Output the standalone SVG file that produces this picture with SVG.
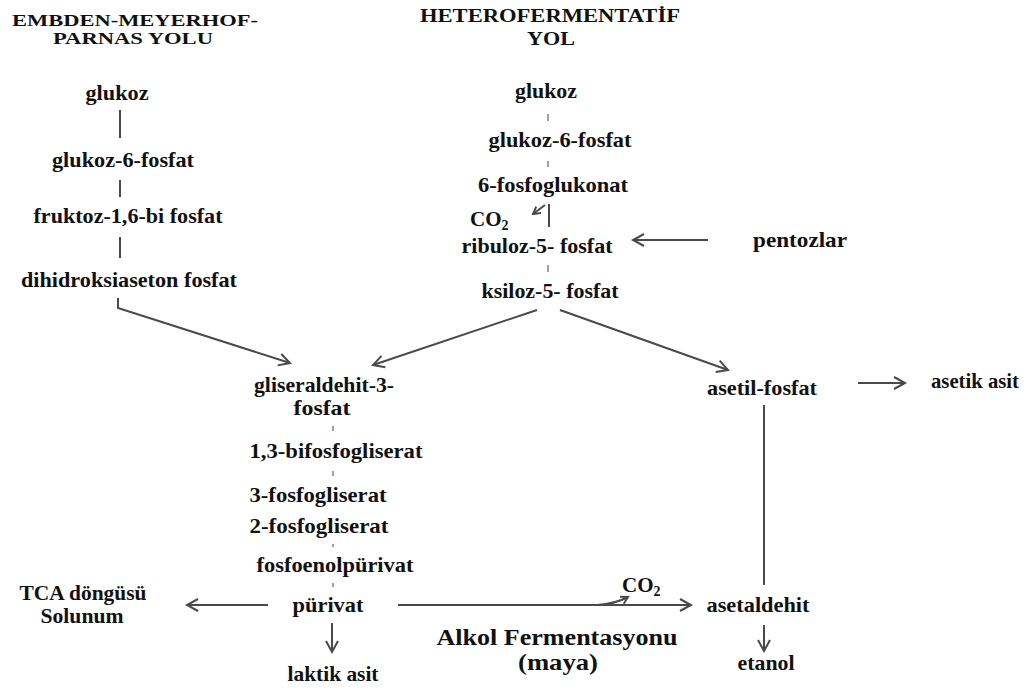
<svg xmlns="http://www.w3.org/2000/svg" width="1034" height="688" viewBox="0 0 1034 688">
<style>
text{font-family:"Liberation Serif","Times New Roman",serif;font-weight:bold;fill:#111;font-size:21px;text-anchor:middle}
.t{font-size:17px}
.t2{font-size:18px}
.big{font-size:23px}
.ln{stroke:#4a4a4a;stroke-width:2;fill:none}
.tk{stroke:#8a8a8a;stroke-width:1.6;fill:none}
.ar{marker-end:url(#ah)}
</style>
<defs>
<marker id="ah" markerUnits="userSpaceOnUse" markerWidth="16" markerHeight="16" viewBox="0 0 16 16" refX="13" refY="8" orient="auto">
<path d="M2,2 L13,8 L2,14" stroke="#4a4a4a" stroke-width="2" fill="none"/>
</marker>
<marker id="ahs" markerUnits="userSpaceOnUse" markerWidth="10" markerHeight="10" viewBox="0 0 10 10" refX="8" refY="5" orient="auto">
<path d="M1,1 L8,5 L1,9" stroke="#4a4a4a" stroke-width="2" fill="none"/>
</marker>
</defs>
<rect width="1034" height="688" fill="#fff"/>

<g id="titles">
<text class="t" x="135" y="26" textLength="246" lengthAdjust="spacingAndGlyphs">EMBDEN-MEYERHOF-</text>
<text class="t" x="133" y="44" textLength="160" lengthAdjust="spacingAndGlyphs">PARNAS YOLU</text>
<text class="t2" x="550" y="22" textLength="260" lengthAdjust="spacingAndGlyphs">HETEROFERMENTATİF</text>
<text class="t2" x="551" y="45" textLength="48" lengthAdjust="spacingAndGlyphs">YOL</text>
</g>

<g id="connectors">
<line class="ln" x1="120" y1="110" x2="120" y2="138"/>
<line class="ln" x1="120" y1="180" x2="120" y2="197"/>
<line class="ln" x1="120" y1="237" x2="120" y2="258"/>
<polyline class="ln ar" points="118,298 118,308 290,363"/>
<line class="tk" x1="548" y1="114" x2="548" y2="121"/>
<line class="tk" x1="548" y1="161" x2="548" y2="167"/>
<line class="ln" x1="549" y1="204" x2="549" y2="227"/>
<line class="ln" x1="545" y1="205" x2="533" y2="214" marker-end="url(#ahs)"/>
<line class="tk" x1="548" y1="265" x2="548" y2="272"/>
<line class="ln ar" x1="708" y1="240" x2="633" y2="240"/>
<line class="ln ar" x1="537" y1="310" x2="373" y2="365"/>
<line class="ln ar" x1="560" y1="310" x2="728" y2="370"/>
<line class="tk" x1="333" y1="426" x2="333" y2="431"/>
<line class="tk" x1="333" y1="471" x2="333" y2="476"/>
<line class="tk" x1="333" y1="544" x2="333" y2="547"/>
<line class="tk" x1="333" y1="583" x2="333" y2="587"/>
<line class="ln ar" x1="858" y1="383" x2="905" y2="383"/>
<line class="ln" x1="764" y1="405" x2="764" y2="585"/>
<line class="ln ar" x1="268" y1="605" x2="187" y2="605"/>
<line class="ln ar" x1="332" y1="623" x2="332" y2="652"/>
<line class="ln ar" x1="398" y1="605" x2="691" y2="605"/>
<path class="ln" d="M597,605 Q615,604 628,597" marker-end="url(#ahs)"/>
<line class="ln ar" x1="764" y1="625" x2="764" y2="651"/>
</g>

<g id="n-glukoz-l"><text x="117" y="100" textLength="63" lengthAdjust="spacingAndGlyphs">glukoz</text></g>
<g id="n-g6p-l"><text x="123" y="167" textLength="142" lengthAdjust="spacingAndGlyphs">glukoz-6-fosfat</text></g>
<g id="n-f16bp"><text x="128" y="223" textLength="189" lengthAdjust="spacingAndGlyphs">fruktoz-1,6-bi fosfat</text></g>
<g id="n-dhap"><text x="129" y="287" textLength="216" lengthAdjust="spacingAndGlyphs">dihidroksiaseton fosfat</text></g>

<g id="n-glukoz-m"><text x="546" y="98" textLength="62" lengthAdjust="spacingAndGlyphs">glukoz</text></g>
<g id="n-g6p-m"><text x="560" y="147" textLength="143" lengthAdjust="spacingAndGlyphs">glukoz-6-fosfat</text></g>
<g id="n-6pg"><text x="553" y="192" textLength="150" lengthAdjust="spacingAndGlyphs">6-fosfoglukonat</text></g>
<g id="n-co2-top"><text x="470" y="226" style="text-anchor:start">CO<tspan font-size="14" dy="4">2</tspan></text></g>
<g id="n-r5p"><text x="537" y="253" textLength="151" lengthAdjust="spacingAndGlyphs">ribuloz-5- fosfat</text></g>
<g id="n-pentozlar"><text x="800" y="247" textLength="94" lengthAdjust="spacingAndGlyphs">pentozlar</text></g>
<g id="n-x5p"><text x="550" y="298" textLength="137" lengthAdjust="spacingAndGlyphs">ksiloz-5- fosfat</text></g>

<g id="n-g3p"><text x="324" y="392" textLength="140" lengthAdjust="spacingAndGlyphs">gliseraldehit-3-</text><text x="322" y="415" textLength="57" lengthAdjust="spacingAndGlyphs">fosfat</text></g>
<g id="n-13bpg"><text x="336" y="458" textLength="173" lengthAdjust="spacingAndGlyphs">1,3-bifosfogliserat</text></g>
<g id="n-3pg"><text x="318" y="502" textLength="137" lengthAdjust="spacingAndGlyphs">3-fosfogliserat</text></g>
<g id="n-2pg"><text x="319" y="533" textLength="139" lengthAdjust="spacingAndGlyphs">2-fosfogliserat</text></g>
<g id="n-pep"><text x="335" y="572" textLength="157" lengthAdjust="spacingAndGlyphs">fosfoenolpürivat</text></g>
<g id="n-pyr"><text x="328" y="612" textLength="71" lengthAdjust="spacingAndGlyphs">pürivat</text></g>
<g id="n-tca"><text x="83" y="600" textLength="127" lengthAdjust="spacingAndGlyphs">TCA döngüsü</text><text x="82" y="623" textLength="83" lengthAdjust="spacingAndGlyphs">Solunum</text></g>
<g id="n-laktik"><text x="333" y="681" textLength="91" lengthAdjust="spacingAndGlyphs">laktik asit</text></g>
<g id="n-alkol"><text class="big" x="557" y="645" textLength="241" lengthAdjust="spacingAndGlyphs">Alkol Fermentasyonu</text><text class="big" x="558" y="670" textLength="80" lengthAdjust="spacingAndGlyphs">(maya)</text></g>
<g id="n-co2-bot"><text x="622" y="592" style="text-anchor:start">CO<tspan font-size="14" dy="4">2</tspan></text></g>
<g id="n-asetaldehit"><text x="758" y="612" textLength="103" lengthAdjust="spacingAndGlyphs">asetaldehit</text></g>
<g id="n-etanol"><text x="766" y="670" textLength="57" lengthAdjust="spacingAndGlyphs">etanol</text></g>
<g id="n-asetilp"><text x="762" y="395" textLength="110" lengthAdjust="spacingAndGlyphs">asetil-fosfat</text></g>
<g id="n-asetik"><text x="975" y="388" textLength="88" lengthAdjust="spacingAndGlyphs">asetik asit</text></g>
</svg>
